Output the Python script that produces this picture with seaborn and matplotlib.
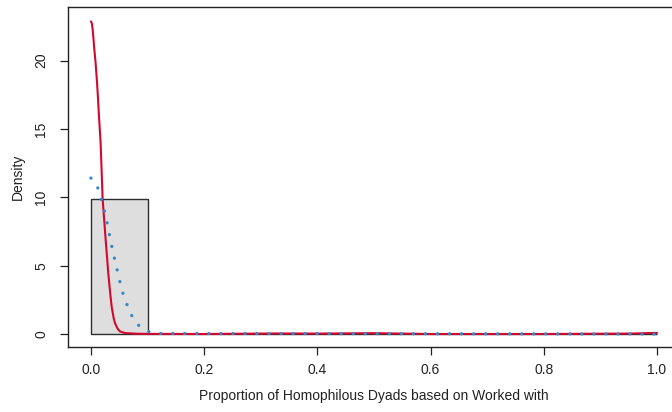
import numpy as np
import pandas as pd
import matplotlib
matplotlib.use("Agg")
import matplotlib.pyplot as plt
import seaborn as sns

# ---- data ----
bin_edges = [0.0, 0.1, 0.2, 0.3, 0.4, 0.5, 0.6, 0.7, 0.8, 0.9, 1.0]
bin_density = [9.9, 0.0, 0.0, 0.0, 0.0, 0.0, 0.0, 0.0, 0.0, 0.0]

red_x = [0.0, 0.0015, 0.0030, 0.0045, 0.0058, 0.0072, 0.0085, 0.0106, 0.0124,
         0.0141, 0.0156, 0.0171, 0.0190, 0.0206, 0.0235,
         0.0260, 0.0285, 0.0306, 0.0340, 0.0366, 0.0400, 0.0424, 0.0470, 0.0512,
         0.0600, 0.0800, 0.1000, 0.2000, 0.3300, 0.4000, 0.5000, 0.6000, 0.8000,
         0.9500, 1.0000]
red_y = [22.87, 22.75, 22.3, 21.6, 20.9, 20.3, 19.7, 18.5, 17.3,
         16.0, 15.0, 13.97, 11.8, 9.9, 8.3,
         6.9, 5.6, 4.46, 3.0, 2.0, 1.2, 0.8, 0.4, 0.19,
         0.07, 0.02, 0.01, 0.0, 0.04, 0.03, 0.06, 0.0, 0.0,
         0.03, 0.08]

blue_x = [0.0, 0.0118, 0.0180, 0.0235, 0.0283, 0.0324, 0.0366, 0.0412, 0.0460,
          0.0507, 0.0560, 0.0630, 0.0712, 0.0826, 0.1003, 0.1210, 1.0]
blue_y = [11.41, 10.73, 9.90, 9.04, 8.19, 7.31, 6.46, 5.60, 4.75,
          3.90, 3.04, 2.22, 1.41, 0.68, 0.19, 0.04, 0.0]

x_ticks = [0.0, 0.2, 0.4, 0.6, 0.8, 1.0]
x_tick_labels = ["0.0", "0.2", "0.4", "0.6", "0.8", "1.0"]
y_ticks = [0, 5, 10, 15, 20]
y_tick_labels = ["0", "5", "10", "15", "20"]
x_label = "Proportion of Homophilous Dyads based on Worked with"
y_label = "Density"

# ---- figure ----
sns.set_style("white")
plt.rcParams["font.family"] = ["Liberation Sans", "DejaVu Sans"]

W, H = 672, 412
fig = plt.figure(figsize=(W / 100, H / 100), dpi=100)
left_px, right_px, top_px, bottom_px = 68.3, 679.6, 6.7, 346.5
ax = fig.add_axes([left_px / W, (H - bottom_px) / H,
                   (right_px - left_px) / W, (bottom_px - top_px) / H])

centers = [(a + b) / 2 for a, b in zip(bin_edges[:-1], bin_edges[1:])]
hist_df = pd.DataFrame({"x": centers, "w": bin_density})
sns.histplot(data=hist_df, x="x", weights="w", bins=bin_edges, stat="count",
             color="#dedede", edgecolor="#2e2e2e", linewidth=1.0, alpha=1.0, ax=ax)

red_df = pd.DataFrame({"x": red_x, "y": red_y})
sns.lineplot(data=red_df, x="x", y="y", color="#d4072e", linewidth=1.5,
             sort=False, ax=ax, zorder=3)

blue_df = pd.DataFrame({"x": blue_x, "y": blue_y})
sns.lineplot(data=blue_df, x="x", y="y", color="#3a87c6", linewidth=2.4,
             sort=False, ax=ax, zorder=4)
bl = ax.lines[-1]
bl.set_linestyle((0, (0.01, 3.6)))
bl.set_dash_capstyle("round")

ax.set_xlim(-0.04, 1.04)
ax.set_ylim(-0.915, 23.95)

ax.set_xticks(x_ticks)
ax.set_xticklabels(x_tick_labels)
ax.set_yticks(y_ticks)
ax.set_yticklabels(y_tick_labels, rotation=90, va="center")

ax.tick_params(axis="both", direction="out", length=5.5, width=0.9,
               color="#222222", labelsize=10, labelcolor="#222222",
               bottom=True, left=True)
ax.tick_params(axis="x", pad=6.5)
ax.tick_params(axis="y", pad=9)

for s in ax.spines.values():
    s.set_visible(True)
    s.set_color("#222222")
    s.set_linewidth(1.0)

ax.set_xlabel(x_label, fontsize=10, color="#222222")
ax.set_ylabel(y_label, fontsize=10, color="#222222")
ax.xaxis.set_label_coords((374 - left_px) / (right_px - left_px),
                          -(396 - bottom_px) / (bottom_px - top_px))
ax.xaxis.label.set_va("center")
ax.yaxis.set_label_coords(-(left_px - 18) / (right_px - left_px), 0.5)
ax.yaxis.label.set_va("center")

fig.savefig("out.png", dpi=100)
